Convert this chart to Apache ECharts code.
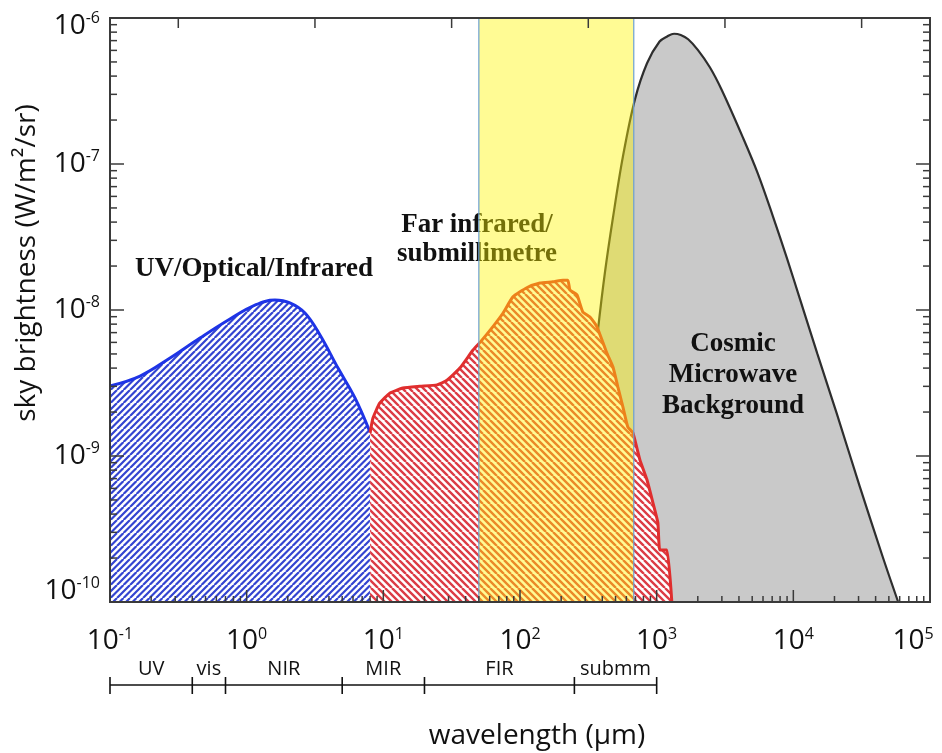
<!DOCTYPE html>
<html>
<head>
<meta charset="utf-8">
<title>Sky brightness spectrum</title>
<script src="https://cdn.jsdelivr.net/npm/echarts@6/dist/echarts.min.js"></script>
<style>
  html, body { margin: 0; padding: 0; background: #ffffff; }
  #chart { width: 942px; height: 753px; }
</style>
</head>
<body>
<div id="chart"></div>
<script>
// UV / optical / near-infrared background (wavelength in μm, brightness in W/m²/sr)
const uvoirWavelength = [0.1, 0.166, 0.275, 0.455, 0.755, 1.15, 1.61, 2.07, 2.67, 3.44, 4.66, 6.2, 7.98];
const uvoirBrightness = [3.02e-9, 3.53e-9, 4.69e-9, 6.43e-9, 8.68e-9, 1.08e-8, 1.17e-8, 1.12e-8, 9.54e-9, 6.74e-9, 4.0e-9, 2.5e-9, 1.46e-9];

// Far-infrared / submillimetre background
const firWavelength = [8.0, 8.4, 9.4, 11.2, 13.9, 18.5, 24.7, 29.2, 36.3, 45.2, 51, 63.4, 75, 88.8, 112, 140, 174, 206, 224,
  232, 261, 288, 325, 365, 432, 479, 520, 566, 615, 670, 754, 848, 938, 1020, 1055, 1188, 1291];
const firBrightness = [1.44e-9, 1.82e-9, 2.3e-9, 2.7e-9, 2.92e-9, 3.0e-9, 3.07e-9, 3.3e-9, 4.0e-9, 5.3e-9, 6.0e-9, 7.7e-9, 9.5e-9, 1.23e-8, 1.42e-8, 1.53e-8, 1.56e-8, 1.6e-8, 1.6e-8,
  1.37e-8, 1.27e-8, 9.7e-9, 8.95e-9, 7.7e-9, 5.07e-9, 4.07e-9, 2.97e-9, 2.17e-9, 1.58e-9, 1.44e-9, 9.4e-10, 6.9e-10, 4.8e-10, 3.5e-10, 2.27e-10, 2.27e-10, 1.0e-10];

// Cosmic microwave background
const cmbWavelength = [260, 290, 330, 372, 418, 479, 566, 692, 850, 1050, 1200, 1340, 1500, 1700, 2000, 2450, 3000, 4300, 5500, 7080, 9000, 11140, 15000, 20800, 30600, 45000, 58500];
const cmbBrightness = [1.0e-10, 5.0e-10, 2.5e-9, 7.3e-9, 1.8e-8, 4.3e-8, 1.12e-7, 2.75e-7, 4.9e-7, 6.9e-7, 7.5e-7, 7.8e-7, 7.65e-7, 7.15e-7, 6.05e-7, 4.6e-7, 3.2e-7, 1.5e-7, 8.6e-8, 4.4e-8, 2.25e-8, 1.2e-8, 5.0e-9, 1.95e-9, 6.2e-10, 2.05e-10, 1.0e-10];

// Highlighted observing window (μm)
const windowRange = [50, 680];

// Axis ranges and tick labels (powers of ten)
const xExponents = [-1, 0, 1, 2, 3, 4, 5];
const yExponents = [-10, -9, -8, -7, -6];
const minorMultipliers = [2, 3, 4, 5, 6, 7, 8, 9];
const topTicks = [0.316, 3.16, 31.6, 316, 3160, 31600];

// Wavelength regimes drawn under the axis
const regimeEdges = [0.1, 0.4, 0.7, 5, 20, 250, 1000];
const regimeNames = ['UV', 'vis', 'NIR', 'MIR', 'FIR', 'submm'];

const X_MIN = Math.pow(10, xExponents[0]);
const X_MAX = Math.pow(10, xExponents[xExponents.length - 1]);
const Y_MIN = Math.pow(10, yExponents[0]);
const Y_MAX = Math.pow(10, yExponents[yExponents.length - 1]);

const SANS = '"Open Sans", "Noto Sans", "DejaVu Sans", sans-serif';
const SERIF = '"Liberation Serif", "DejaVu Serif", serif';
const FRAME = '#3a3a3a';

const pairs = (xs, ys) => xs.map((x, i) => [x, ys[i]]);

// Diagonal hatch tile (two stripes per tile): white ground with coloured stripes
function hatch(color, rising, tile, width) {
  const c = document.createElement('canvas');
  c.width = tile; c.height = tile;
  const g = c.getContext('2d');
  g.fillStyle = '#ffffff';
  g.fillRect(0, 0, tile, tile);
  g.strokeStyle = color;
  g.lineWidth = width;
  g.beginPath();
  const step = tile / 2;
  for (let k = -3; k <= 3; k++) {
    if (rising) { g.moveTo(k * step, tile); g.lineTo(k * step + tile, 0); }
    else { g.moveTo(k * step, 0); g.lineTo(k * step + tile, tile); }
  }
  g.stroke();
  return c;
}

function powerLabel(kind) {
  return function (value) {
    const e = Math.round(Math.log10(value));
    let k = '';
    if (kind === 'y' && e === yExponents[yExponents.length - 1]) k = 't';
    if (kind === 'y' && e === yExponents[0]) k = 'm';
    if (kind === 'x' && e === xExponents[xExponents.length - 1]) k = 'r';
    return '{b' + k + '|10}{s' + k + '|' + e + '}';
  };
}

const BIG = 28, SMALL = 16;
const labelRich = {
  b:  { fontSize: BIG, fontFamily: SANS, color: '#111' },
  s:  { fontSize: SMALL, fontFamily: SANS, color: '#111', padding: [0, 0, 15, 0] },
  bt: { fontSize: BIG, fontFamily: SANS, color: '#111', padding: [16, 0, 0, 0] },
  st: { fontSize: SMALL, fontFamily: SANS, color: '#111', padding: [16, 0, 15, 0] },
  bm: { fontSize: BIG, fontFamily: SANS, color: '#111', padding: [0, 0, 22, 0] },
  sm: { fontSize: SMALL, fontFamily: SANS, color: '#111', padding: [0, 0, 37, 0] },
  br: { fontSize: BIG, fontFamily: SANS, color: '#111' },
  sr: { fontSize: SMALL, fontFamily: SANS, color: '#111', padding: [0, 34, 15, 0] }
};

// Frame and tick marks, drawn above the filled areas
function renderFrame(params, api) {
  const children = [];
  const bl = api.coord([X_MIN, Y_MIN]);
  const tr = api.coord([X_MAX, Y_MAX]);
  const line = (x1, y1, x2, y2, w) => children.push({
    type: 'line', shape: { x1, y1, x2, y2 }, style: { stroke: FRAME, lineWidth: w || 1.5 }
  });
  xExponents.forEach((e, i) => {
    const x = api.coord([Math.pow(10, e), Y_MIN])[0];
    line(x, bl[1], x, bl[1] - 12);
    if (i < xExponents.length - 1) {
      minorMultipliers.forEach(m => {
        const xm = api.coord([m * Math.pow(10, e), Y_MIN])[0];
        line(xm, bl[1], xm, bl[1] - 6);
      });
    }
  });
  topTicks.forEach(v => {
    const x = api.coord([v, Y_MAX])[0];
    line(x, tr[1], x, tr[1] + 10);
  });
  yExponents.forEach((e, i) => {
    const y = api.coord([X_MIN, Math.pow(10, e)])[1];
    line(bl[0], y, bl[0] + 14, y);
    line(tr[0], y, tr[0] - 14, y);
    if (i < yExponents.length - 1) {
      minorMultipliers.forEach(m => {
        const ym = api.coord([X_MIN, m * Math.pow(10, e)])[1];
        line(bl[0], ym, bl[0] + 7, ym);
        line(tr[0], ym, tr[0] - 7, ym);
      });
    }
  });
  children.push({
    type: 'rect', shape: { x: bl[0], y: tr[1], width: tr[0] - bl[0], height: bl[1] - tr[1] },
    style: { fill: null, stroke: FRAME, lineWidth: 2 }
  });
  return { type: 'group', children };
}

// Bracketed wavelength regimes beneath the axis labels
function renderRegimes(params, api) {
  const children = [];
  const yLine = api.coord([X_MIN, Y_MIN])[1] + 83;
  const xs = regimeEdges.map(v => api.coord([v, Y_MIN])[0]);
  children.push({ type: 'line', shape: { x1: xs[0], y1: yLine, x2: xs[xs.length - 1], y2: yLine },
    style: { stroke: '#111', lineWidth: 1.6 } });
  xs.forEach(x => children.push({ type: 'line', shape: { x1: x, y1: yLine - 8, x2: x, y2: yLine + 9 },
    style: { stroke: '#111', lineWidth: 1.6 } }));
  regimeNames.forEach((name, i) => children.push({
    type: 'text', x: (xs[i] + xs[i + 1]) / 2, y: yLine - 16,
    style: { text: name, font: '20px ' + SANS, fill: '#111', align: 'center', verticalAlign: 'middle',
      textAlign: 'center', textVerticalAlign: 'middle' }
  }));
  return { type: 'group', children };
}

// Translucent observing window
function renderWindow(params, api) {
  const p0 = api.coord([api.value(0), api.value(1)]);
  const p1 = api.coord([api.value(2), api.value(3)]);
  return {
    type: 'rect',
    shape: { x: p0[0], y: p0[1], width: p1[0] - p0[0], height: p1[1] - p0[1] },
    style: { fill: 'rgba(255,245,0,0.42)', stroke: '#6b9fd3', lineWidth: 1.2 }
  };
}

const serifBold = 'bold 27px ' + SERIF;
const annotation = (text, x, y) => ({
  type: 'text', x, y, z: 5,
  style: { text, font: serifBold, fill: '#111', align: 'center', verticalAlign: 'middle',
    textAlign: 'center', textVerticalAlign: 'middle' }
});

const chart = echarts.init(document.getElementById('chart'));
chart.setOption({
  animation: false,
  backgroundColor: '#ffffff',
  grid: { left: 110, top: 18, right: 12, bottom: 151 },
  xAxis: {
    type: 'log', logBase: 10, min: X_MIN, max: X_MAX, splitNumber: 6,
    axisLine: { show: false }, axisTick: { show: false }, splitLine: { show: false },
    axisLabel: { margin: 24, formatter: powerLabel('x'), rich: labelRich }
  },
  yAxis: {
    type: 'log', logBase: 10, min: Y_MIN, max: Y_MAX,
    axisLine: { show: false }, axisTick: { show: false }, splitLine: { show: false },
    axisLabel: { margin: 10, formatter: powerLabel('y'), rich: labelRich }
  },
  graphic: [
    annotation('UV/Optical/Infrared', 254, 269),
    annotation('Far infrared/', 477, 225),
    annotation('submillimetre', 477, 254),
    annotation('Cosmic', 733, 344),
    annotation('Microwave', 733, 375),
    annotation('Background', 733, 406),
    { type: 'text', x: 537, y: 736, z: 5,
      style: { text: 'wavelength (μm)', font: '28px ' + SANS, fill: '#111', align: 'center', verticalAlign: 'middle',
        textAlign: 'center', textVerticalAlign: 'middle' } },
    { type: 'text', x: 27, y: 263, rotation: Math.PI / 2, z: 5,
      style: { text: 'sky brightness (W/m²/sr)', font: '28px ' + SANS, fill: '#111', align: 'center', verticalAlign: 'middle',
        textAlign: 'center', textVerticalAlign: 'middle' } }
  ],
  series: [
    {
      name: 'Cosmic Microwave Background', type: 'line', z: 2,
      data: pairs(cmbWavelength, cmbBrightness), smooth: 0.35, showSymbol: false,
      lineStyle: { color: '#2e2e2e', width: 2.2 },
      areaStyle: { color: '#c9c9c9', opacity: 1, origin: 'start' }
    },
    {
      name: 'UV/Optical/Infrared', type: 'line', z: 3,
      data: pairs(uvoirWavelength, uvoirBrightness), smooth: 0.4, showSymbol: false,
      lineStyle: { color: '#1e34e6', width: 3 },
      areaStyle: { color: { image: hatch('#3344d0', true, 13, 2.2), repeat: 'repeat' }, opacity: 1, origin: 'start' }
    },
    {
      name: 'Far infrared/submillimetre', type: 'line', z: 3,
      data: pairs(firWavelength, firBrightness), smooth: 0.15, showSymbol: false,
      lineStyle: { color: '#e02e2e', width: 3 },
      areaStyle: { color: { image: hatch('#dc3c46', false, 14, 2.4), repeat: 'repeat' }, opacity: 1, origin: 'start' }
    },
    {
      name: 'window', type: 'custom', z: 6, renderItem: renderWindow,
      data: [[windowRange[0], Y_MAX, windowRange[1], Y_MIN]],
      encode: { x: [0, 2], y: [1, 3] }
    },
    {
      name: 'frame', type: 'custom', z: 12, clip: false, renderItem: renderFrame,
      data: [[X_MIN, Y_MIN]], silent: true
    },
    {
      name: 'regimes', type: 'custom', z: 12, clip: false, renderItem: renderRegimes,
      data: [[X_MIN, Y_MIN]], silent: true
    }
  ]
});
</script>
</body>
</html>
